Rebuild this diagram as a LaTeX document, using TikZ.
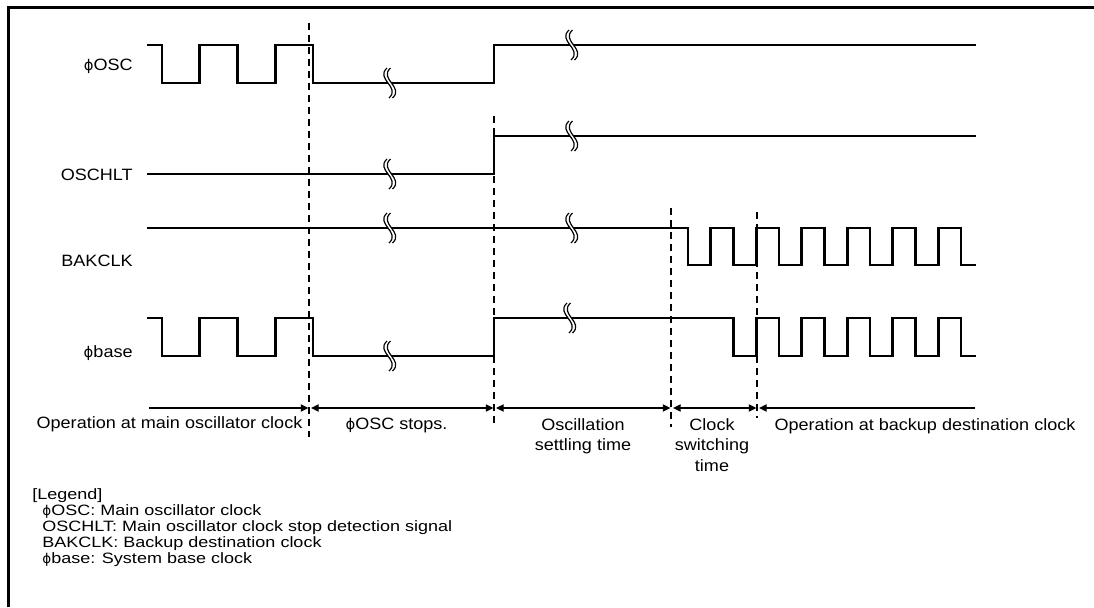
\documentclass[tikz,border=0pt]{standalone}
\usepackage{fontspec}
\setmainfont{Liberation Sans}[FakeStretch=1.1]
\newfontfamily\legendfont{Liberation Sans}[FakeStretch=1.2]
\newfontfamily\phifont{DejaVu Sans}[Scale=0.9]
\usetikzlibrary{arrows.meta}

\newcommand{\phisym}{{\phifont ϕ}}
\newcommand{\wavebrk}[2]{%
  \begin{scope}[shift={(#1,#2)}]
    \fill[white] (-1,-15) .. controls (-13,-4) and (13,4) .. (1,15) -- (4.5,15) .. controls (16.5,4) and (-9.5,-4) .. (2.5,-15) -- cycle;
    \draw[line width=0.6pt] (-1,-15) .. controls (-13,-4) and (13,4) .. (1,15)
      (2.5,-15) .. controls (-9.5,-4) and (16.5,4) .. (4.5,15);
  \end{scope}}

\begin{document}
\begin{tikzpicture}[x=0.5pt, y=-0.5pt, >={Triangle[length=3.8pt,width=3.6pt]},
font=\fontsize{8.2}{10.2}\selectfont,
wave/.style={line width=1.3pt},
guide/.style={line width=0.6pt, dash pattern=on 3.5pt off 2.5pt},
dim/.style={line width=0.6pt, shorten <=1pt, shorten >=0.3pt},
sig/.style={anchor=base east, inner sep=0pt},
span/.style={anchor=north, align=center, inner sep=0pt}]
  \useasboundingbox (0,0) rectangle (1094,607);
  \draw[line width=1.2pt] (8.5,607) -- (8.5,7.5) -- (1094,7.5);

  \node[sig] (OSC) at (133,70) {\phisym OSC};
  \node[sig] (OSCHLT) at (133,180) {OSCHLT};
  \node[sig] (BAKCLK) at (133,266) {BAKCLK};
  \node[sig] (BASE) at (133,357) {\phisym base};

  \draw[wave] (147,45) -- (162,45) foreach \i in {1,2} { -- ++(0,38) -- ++(37.75,0) -- ++(0,-38) -- ++(37.75,0) }
    -- ++(0,38) -- (494,83) -- (494,45) -- (976,45);
  \draw[wave] (147,174) -- (494,174) -- (494,136) -- (976,136);
  \draw[wave] (147,228) -- (688,228) foreach \i in {1,...,6} { -- ++(0,37) -- ++(22.75,0) -- ++(0,-37) -- ++(22.75,0) }
    -- ++(0,37) -- (976,265);
  \draw[wave] (147,318) -- (162,318) foreach \i in {1,2} { -- ++(0,38) -- ++(37.75,0) -- ++(0,-38) -- ++(37.75,0) }
    -- ++(0,38) -- (494,356) -- (494,318) -- (733.5,318)
    foreach \i in {1,...,5} { -- ++(0,38) -- ++(22.75,0) -- ++(0,-38) -- ++(22.75,0) }
    -- ++(0,38) -- (976,356);
  \foreach \x/\y in {388/83, 388/174, 388/228, 388/356, 570/45, 570/136, 570/228, 568/318}
    \wavebrk{\x}{\y};

  \draw[guide] (309,23) -- (309,437);
  \draw[guide] (494,116) -- (494,423);
  \draw[guide] (671,208) -- (671,427);
  \draw[guide] (757,212) -- (757,418);

  \coordinate (T0) at (147,408);
  \coordinate (T1) at (309,408);
  \coordinate (T2) at (494,408);
  \coordinate (T3) at (671,408);
  \coordinate (T4) at (757,408);
  \coordinate (T5) at (976,408);
  \draw[dim,->] (T0) -- (T1);
  \draw[dim,<->] (T1) -- (T2);
  \draw[dim,<->] (T2) -- (T3);
  \draw[dim,<->] (T3) -- (T4);
  \draw[dim,<-] (T4) -- (T5);

  \node[anchor=base] (OP_MAIN) at (169.5,428) {Operation at main oscillator clock};
  \node[anchor=base] (OSC_STOP) at (396.5,429) {\phisym OSC stops.};
  \node[span] (SETTLE) at (583,418) {Oscillation\\settling time};
  \node[span] (SWITCH) at (712,418) {Clock\\switching\\time};
  \node[anchor=base] (OP_BAK) at (925,430) {Operation at backup destination clock};

  \node[anchor=base west, inner sep=0pt, font=\legendfont\fontsize{7.5}{8}\selectfont] (LEGEND) at (32,499) {[Legend]};
  \node[anchor=north west, align=left, inner sep=0pt, font=\legendfont\fontsize{7.5}{8}\selectfont] (LEGEND_ITEMS) at (42,504)
    {\phisym OSC: Main oscillator clock\\OSCHLT: Main oscillator clock stop detection signal\\BAKCLK: Backup destination clock\\\phisym base: System base clock};
\end{tikzpicture}
\end{document}
